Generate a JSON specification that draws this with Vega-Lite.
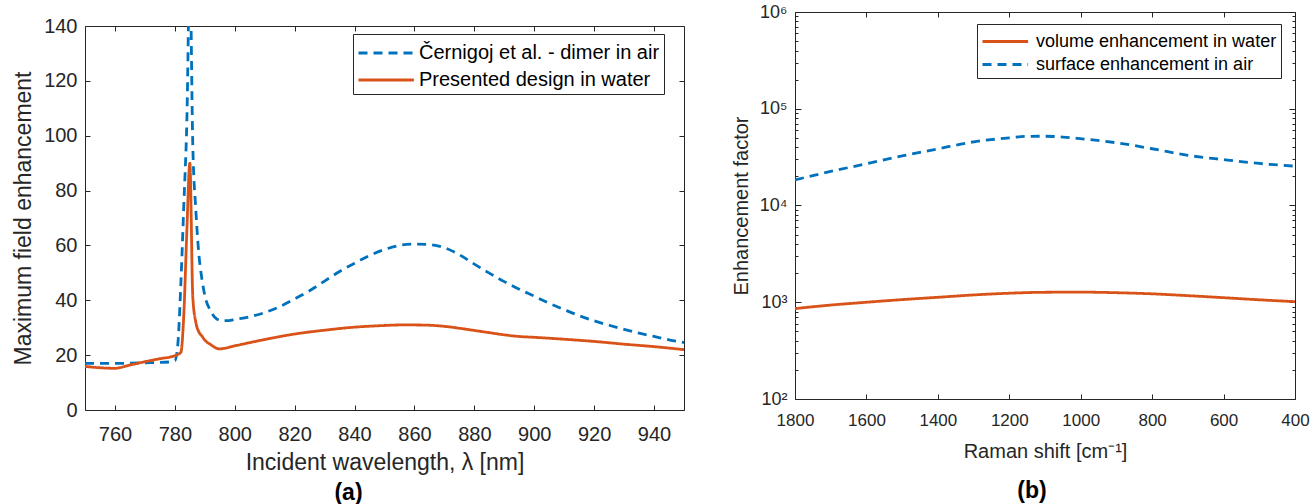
{
  "$schema": "https://vega.github.io/schema/vega-lite/v6.json",
  "padding": {"left": 12, "top": 3, "right": 2, "bottom": 2},
  "background": "white",
  "datasets": {
    "wave": [
      {"wavelength": 750, "enhancement": 17.0, "series": "Černigoj et al. - dimer in air"},
      {"wavelength": 755, "enhancement": 17.0, "series": "Černigoj et al. - dimer in air"},
      {"wavelength": 760, "enhancement": 17.0, "series": "Černigoj et al. - dimer in air"},
      {"wavelength": 770, "enhancement": 17.2, "series": "Černigoj et al. - dimer in air"},
      {"wavelength": 778, "enhancement": 17.5, "series": "Černigoj et al. - dimer in air"},
      {"wavelength": 780, "enhancement": 18.0, "series": "Černigoj et al. - dimer in air"},
      {"wavelength": 781, "enhancement": 24, "series": "Černigoj et al. - dimer in air"},
      {"wavelength": 782, "enhancement": 46, "series": "Černigoj et al. - dimer in air"},
      {"wavelength": 783, "enhancement": 75, "series": "Černigoj et al. - dimer in air"},
      {"wavelength": 784, "enhancement": 105, "series": "Černigoj et al. - dimer in air"},
      {"wavelength": 785, "enhancement": 160, "series": "Černigoj et al. - dimer in air"},
      {"wavelength": 786, "enhancement": 96, "series": "Černigoj et al. - dimer in air"},
      {"wavelength": 787, "enhancement": 73, "series": "Černigoj et al. - dimer in air"},
      {"wavelength": 788, "enhancement": 57, "series": "Černigoj et al. - dimer in air"},
      {"wavelength": 789, "enhancement": 48, "series": "Černigoj et al. - dimer in air"},
      {"wavelength": 790, "enhancement": 41.8, "series": "Černigoj et al. - dimer in air"},
      {"wavelength": 792, "enhancement": 36, "series": "Černigoj et al. - dimer in air"},
      {"wavelength": 794, "enhancement": 33.2, "series": "Černigoj et al. - dimer in air"},
      {"wavelength": 796, "enhancement": 32.6, "series": "Černigoj et al. - dimer in air"},
      {"wavelength": 798, "enhancement": 32.6, "series": "Černigoj et al. - dimer in air"},
      {"wavelength": 800, "enhancement": 33.0, "series": "Černigoj et al. - dimer in air"},
      {"wavelength": 805, "enhancement": 34.0, "series": "Černigoj et al. - dimer in air"},
      {"wavelength": 810, "enhancement": 35.5, "series": "Černigoj et al. - dimer in air"},
      {"wavelength": 815, "enhancement": 37.7, "series": "Černigoj et al. - dimer in air"},
      {"wavelength": 820, "enhancement": 40.5, "series": "Černigoj et al. - dimer in air"},
      {"wavelength": 825, "enhancement": 43.5, "series": "Černigoj et al. - dimer in air"},
      {"wavelength": 830, "enhancement": 47.0, "series": "Černigoj et al. - dimer in air"},
      {"wavelength": 835, "enhancement": 50.5, "series": "Černigoj et al. - dimer in air"},
      {"wavelength": 840, "enhancement": 53.5, "series": "Černigoj et al. - dimer in air"},
      {"wavelength": 845, "enhancement": 56.3, "series": "Černigoj et al. - dimer in air"},
      {"wavelength": 850, "enhancement": 58.5, "series": "Černigoj et al. - dimer in air"},
      {"wavelength": 855, "enhancement": 60.0, "series": "Černigoj et al. - dimer in air"},
      {"wavelength": 860, "enhancement": 60.5, "series": "Černigoj et al. - dimer in air"},
      {"wavelength": 865, "enhancement": 60.3, "series": "Černigoj et al. - dimer in air"},
      {"wavelength": 870, "enhancement": 59.2, "series": "Černigoj et al. - dimer in air"},
      {"wavelength": 875, "enhancement": 56.6, "series": "Černigoj et al. - dimer in air"},
      {"wavelength": 880, "enhancement": 53.2, "series": "Černigoj et al. - dimer in air"},
      {"wavelength": 885, "enhancement": 49.9, "series": "Černigoj et al. - dimer in air"},
      {"wavelength": 890, "enhancement": 46.8, "series": "Černigoj et al. - dimer in air"},
      {"wavelength": 895, "enhancement": 44.0, "series": "Černigoj et al. - dimer in air"},
      {"wavelength": 900, "enhancement": 41.5, "series": "Černigoj et al. - dimer in air"},
      {"wavelength": 905, "enhancement": 38.9, "series": "Černigoj et al. - dimer in air"},
      {"wavelength": 910, "enhancement": 36.6, "series": "Černigoj et al. - dimer in air"},
      {"wavelength": 915, "enhancement": 34.4, "series": "Černigoj et al. - dimer in air"},
      {"wavelength": 920, "enhancement": 32.5, "series": "Černigoj et al. - dimer in air"},
      {"wavelength": 925, "enhancement": 30.9, "series": "Černigoj et al. - dimer in air"},
      {"wavelength": 930, "enhancement": 29.4, "series": "Černigoj et al. - dimer in air"},
      {"wavelength": 935, "enhancement": 28.0, "series": "Černigoj et al. - dimer in air"},
      {"wavelength": 940, "enhancement": 26.8, "series": "Černigoj et al. - dimer in air"},
      {"wavelength": 945, "enhancement": 25.6, "series": "Černigoj et al. - dimer in air"},
      {"wavelength": 950, "enhancement": 24.6, "series": "Černigoj et al. - dimer in air"},
      {"wavelength": 750, "enhancement": 15.9, "series": "Presented design in water"},
      {"wavelength": 755, "enhancement": 15.4, "series": "Presented design in water"},
      {"wavelength": 760, "enhancement": 15.2, "series": "Presented design in water"},
      {"wavelength": 765, "enhancement": 16.4, "series": "Presented design in water"},
      {"wavelength": 770, "enhancement": 17.6, "series": "Presented design in water"},
      {"wavelength": 775, "enhancement": 18.7, "series": "Presented design in water"},
      {"wavelength": 780, "enhancement": 19.8, "series": "Presented design in water"},
      {"wavelength": 782, "enhancement": 21.0, "series": "Presented design in water"},
      {"wavelength": 783, "enhancement": 35, "series": "Presented design in water"},
      {"wavelength": 784, "enhancement": 65, "series": "Presented design in water"},
      {"wavelength": 785, "enhancement": 90, "series": "Presented design in water"},
      {"wavelength": 786, "enhancement": 41, "series": "Presented design in water"},
      {"wavelength": 787, "enhancement": 32, "series": "Presented design in water"},
      {"wavelength": 788, "enhancement": 28.5, "series": "Presented design in water"},
      {"wavelength": 789, "enhancement": 27.0, "series": "Presented design in water"},
      {"wavelength": 790, "enhancement": 25.5, "series": "Presented design in water"},
      {"wavelength": 792, "enhancement": 23.8, "series": "Presented design in water"},
      {"wavelength": 794, "enhancement": 22.5, "series": "Presented design in water"},
      {"wavelength": 795, "enhancement": 22.3, "series": "Presented design in water"},
      {"wavelength": 800, "enhancement": 23.4, "series": "Presented design in water"},
      {"wavelength": 810, "enhancement": 25.7, "series": "Presented design in water"},
      {"wavelength": 820, "enhancement": 27.7, "series": "Presented design in water"},
      {"wavelength": 830, "enhancement": 29.1, "series": "Presented design in water"},
      {"wavelength": 840, "enhancement": 30.2, "series": "Presented design in water"},
      {"wavelength": 850, "enhancement": 30.8, "series": "Presented design in water"},
      {"wavelength": 855, "enhancement": 31.0, "series": "Presented design in water"},
      {"wavelength": 860, "enhancement": 31.0, "series": "Presented design in water"},
      {"wavelength": 865, "enhancement": 30.9, "series": "Presented design in water"},
      {"wavelength": 870, "enhancement": 30.5, "series": "Presented design in water"},
      {"wavelength": 875, "enhancement": 29.8, "series": "Presented design in water"},
      {"wavelength": 880, "enhancement": 29.0, "series": "Presented design in water"},
      {"wavelength": 885, "enhancement": 28.2, "series": "Presented design in water"},
      {"wavelength": 890, "enhancement": 27.4, "series": "Presented design in water"},
      {"wavelength": 895, "enhancement": 26.8, "series": "Presented design in water"},
      {"wavelength": 900, "enhancement": 26.5, "series": "Presented design in water"},
      {"wavelength": 910, "enhancement": 25.8, "series": "Presented design in water"},
      {"wavelength": 920, "enhancement": 25.0, "series": "Presented design in water"},
      {"wavelength": 930, "enhancement": 24.0, "series": "Presented design in water"},
      {"wavelength": 940, "enhancement": 23.1, "series": "Presented design in water"},
      {"wavelength": 950, "enhancement": 22.0, "series": "Presented design in water"}
    ],
    "raman": [
      {"shift": 1800, "factor": 860, "curve": "volume enhancement in water"},
      {"shift": 1700, "factor": 935, "curve": "volume enhancement in water"},
      {"shift": 1600, "factor": 1000, "curve": "volume enhancement in water"},
      {"shift": 1500, "factor": 1065, "curve": "volume enhancement in water"},
      {"shift": 1400, "factor": 1125, "curve": "volume enhancement in water"},
      {"shift": 1300, "factor": 1190, "curve": "volume enhancement in water"},
      {"shift": 1200, "factor": 1240, "curve": "volume enhancement in water"},
      {"shift": 1100, "factor": 1268, "curve": "volume enhancement in water"},
      {"shift": 1000, "factor": 1272, "curve": "volume enhancement in water"},
      {"shift": 900, "factor": 1255, "curve": "volume enhancement in water"},
      {"shift": 800, "factor": 1222, "curve": "volume enhancement in water"},
      {"shift": 700, "factor": 1170, "curve": "volume enhancement in water"},
      {"shift": 600, "factor": 1115, "curve": "volume enhancement in water"},
      {"shift": 500, "factor": 1060, "curve": "volume enhancement in water"},
      {"shift": 400, "factor": 1015, "curve": "volume enhancement in water"},
      {"shift": 1800, "factor": 18400, "curve": "surface enhancement in air"},
      {"shift": 1700, "factor": 22500, "curve": "surface enhancement in air"},
      {"shift": 1600, "factor": 27000, "curve": "surface enhancement in air"},
      {"shift": 1500, "factor": 32500, "curve": "surface enhancement in air"},
      {"shift": 1400, "factor": 38500, "curve": "surface enhancement in air"},
      {"shift": 1300, "factor": 45500, "curve": "surface enhancement in air"},
      {"shift": 1200, "factor": 50000, "curve": "surface enhancement in air"},
      {"shift": 1150, "factor": 51800, "curve": "surface enhancement in air"},
      {"shift": 1100, "factor": 52000, "curve": "surface enhancement in air"},
      {"shift": 1050, "factor": 51000, "curve": "surface enhancement in air"},
      {"shift": 1000, "factor": 49000, "curve": "surface enhancement in air"},
      {"shift": 900, "factor": 44500, "curve": "surface enhancement in air"},
      {"shift": 800, "factor": 38600, "curve": "surface enhancement in air"},
      {"shift": 700, "factor": 33000, "curve": "surface enhancement in air"},
      {"shift": 600, "factor": 29800, "curve": "surface enhancement in air"},
      {"shift": 500, "factor": 27200, "curve": "surface enhancement in air"},
      {"shift": 400, "factor": 25500, "curve": "surface enhancement in air"}
    ]
  },
  "config": {
    "font": "Liberation Sans",
    "view": {"stroke": null},
    "axis": {
      "grid": false,
      "domainColor": "#262626",
      "tickColor": "#262626",
      "labelColor": "#262626",
      "titleColor": "#262626",
      "labelFont": "Liberation Sans",
      "titleFont": "Liberation Sans",
      "titleFontWeight": "normal",
      "domainWidth": 1,
      "tickWidth": 1,
      "labelFlush": false,
      "labelOverlap": false
    },
    "legend": {
      "labelFont": "Liberation Sans",
      "labelColor": "#000000",
      "strokeColor": "#262626",
      "fillColor": "white",
      "labelLimit": 0
    },
    "title": {"font": "Liberation Sans", "color": "#000000"}
  },
  "resolve": {
    "scale": {"color": "independent", "strokeDash": "independent"},
    "legend": {"color": "independent", "strokeDash": "independent"}
  },
  "spacing": 46,
  "hconcat": [
    {
      "spacing": -2,
      "vconcat": [
        {
          "width": 599,
          "height": 1,
          "data": {"values": [{}]},
          "mark": {"type": "text", "text": ""}
        },
        {
          "width": 599,
          "height": 384,
          "title": {"text": "(a)", "orient": "bottom", "fontSize": 23, "fontWeight": "bold", "offset": 8, "dx": -36},
          "data": {"name": "wave"},
          "layer": [
            {
              "transform": [{"filter": "datum.series == 'Černigoj et al. - dimer in air'"}],
              "mark": {"type": "line", "strokeWidth": 2.8, "clip": true, "interpolate": "monotone"},
              "encoding": {
                "x": {
                  "field": "wavelength", "type": "quantitative",
                  "scale": {"domain": [750, 950], "nice": false, "zero": false},
                  "axis": {"orient": "bottom", "values": [760, 780, 800, 820, 840, 860, 880, 900, 920, 940], "title": "Incident wavelength, λ [nm]", "labelFontSize": 20, "titleFontSize": 23, "tickSize": -5, "labelPadding": 19, "titlePadding": 7}
                },
                "y": {
                  "field": "enhancement", "type": "quantitative",
                  "scale": {"domain": [0, 140], "nice": false},
                  "axis": {"orient": "left", "values": [0, 20, 40, 60, 80, 100, 120, 140], "title": "Maximum field enhancement", "labelFontSize": 20, "titleFontSize": 23, "tickSize": -5, "labelPadding": 13, "titlePadding": 8}
                },
                "color": {
                  "field": "series", "type": "nominal",
                  "scale": {"domain": ["Černigoj et al. - dimer in air", "Presented design in water"], "range": ["#0072BD", "#D95319"]},
                  "legend": {"title": null, "orient": "none", "legendX": 268, "legendY": 22, "symbolType": "M-1,0H3.1", "symbolSize": 729, "symbolStrokeWidth": 2.8, "labelFontSize": 20, "labelOffset": 32, "padding": 4, "rowPadding": 2}
                },
                "strokeDash": {
                  "field": "series", "type": "nominal",
                  "scale": {"domain": ["Černigoj et al. - dimer in air", "Presented design in water"], "range": [[9, 6], [1, 0]]},
                  "legend": {"title": null}
                }
              }
            },
            {
              "transform": [{"filter": "datum.series == 'Presented design in water'"}],
              "mark": {"type": "line", "strokeWidth": 2.8, "clip": true, "interpolate": "monotone"},
              "encoding": {
                "x": {
                  "field": "wavelength", "type": "quantitative",
                  "scale": {"domain": [750, 950], "nice": false, "zero": false},
                  "axis": {"orient": "top", "values": [760, 780, 800, 820, 840, 860, 880, 900, 920, 940], "labels": false, "title": null, "tickSize": -5}
                },
                "y": {
                  "field": "enhancement", "type": "quantitative",
                  "scale": {"domain": [0, 140], "nice": false},
                  "axis": {"orient": "right", "values": [0, 20, 40, 60, 80, 100, 120, 140], "labels": false, "title": null, "tickSize": -5}
                },
                "color": {"field": "series", "type": "nominal", "legend": {"title": null}},
                "strokeDash": {"field": "series", "type": "nominal", "legend": {"title": null}}
              }
            }
          ],
          "resolve": {"axis": {"x": "independent", "y": "independent"}}
        }
      ]
    },
    {
      "width": 500,
      "height": 387,
      "title": {"text": "(b)", "orient": "bottom", "fontSize": 23, "fontWeight": "bold", "offset": 19, "dx": -13},
      "data": {"name": "raman"},
      "layer": [
        {
          "transform": [{"filter": "datum.curve == 'volume enhancement in water'"}],
          "mark": {"type": "line", "strokeWidth": 2.8, "clip": true, "interpolate": "monotone"},
          "encoding": {
            "x": {
              "field": "shift", "type": "quantitative",
              "scale": {"domain": [400, 1800], "reverse": true, "nice": false, "zero": false},
              "axis": {"orient": "bottom", "values": [400, 600, 800, 1000, 1200, 1400, 1600, 1800], "format": "d", "title": "Raman shift [cm⁻¹]", "labelFontSize": 17, "titleFontSize": 20, "tickSize": -5, "labelPadding": 18, "titlePadding": 13}
            },
            "y": {
              "field": "factor", "type": "quantitative",
              "scale": {"type": "log", "domain": [100, 1000000], "nice": false},
              "axis": {
                "orient": "left",
                "values": [100, 200, 300, 400, 500, 600, 700, 800, 900, 1000, 2000, 3000, 4000, 5000, 6000, 7000, 8000, 9000, 10000, 20000, 30000, 40000, 50000, 60000, 70000, 80000, 90000, 100000, 200000, 300000, 400000, 500000, 600000, 700000, 800000, 900000, 1000000],
                "labelExpr": "datum.value == 100 ? '10²' : datum.value == 1000 ? '10³' : datum.value == 10000 ? '10⁴' : datum.value == 100000 ? '10⁵' : datum.value == 1000000 ? '10⁶' : ''",
                "title": "Enhancement factor", "labelFontSize": 18, "titleFontSize": 20,
                "tickSize": {"condition": {"test": "indexof([100, 1000, 10000, 100000, 1000000], datum.value) >= 0", "value": -6}, "value": -3},
                "labelPadding": 14, "titlePadding": 8
              }
            },
            "color": {
              "field": "curve", "type": "nominal",
              "scale": {"domain": ["volume enhancement in water", "surface enhancement in air"], "range": ["#D95319", "#0072BD"]},
              "legend": {"title": null, "orient": "none", "legendX": 182, "legendY": 12, "symbolType": "M-1,0H2.8", "symbolSize": 576, "symbolStrokeWidth": 2.8, "labelFontSize": 18, "labelOffset": 28, "padding": 4, "rowPadding": 0}
            },
            "strokeDash": {
              "field": "curve", "type": "nominal",
              "scale": {"domain": ["volume enhancement in water", "surface enhancement in air"], "range": [[1, 0], [9, 6]]},
              "legend": {"title": null}
            }
          }
        },
        {
          "transform": [{"filter": "datum.curve == 'surface enhancement in air'"}],
          "mark": {"type": "line", "strokeWidth": 2.8, "clip": true, "interpolate": "monotone"},
          "encoding": {
            "x": {
              "field": "shift", "type": "quantitative",
              "scale": {"domain": [400, 1800], "reverse": true, "nice": false, "zero": false},
              "axis": {"orient": "top", "values": [400, 600, 800, 1000, 1200, 1400, 1600, 1800], "labels": false, "title": null, "tickSize": -5}
            },
            "y": {
              "field": "factor", "type": "quantitative",
              "scale": {"type": "log", "domain": [100, 1000000], "nice": false},
              "axis": {
                "orient": "right",
                "values": [100, 200, 300, 400, 500, 600, 700, 800, 900, 1000, 2000, 3000, 4000, 5000, 6000, 7000, 8000, 9000, 10000, 20000, 30000, 40000, 50000, 60000, 70000, 80000, 90000, 100000, 200000, 300000, 400000, 500000, 600000, 700000, 800000, 900000, 1000000],
                "labels": false, "title": null,
                "tickSize": {"condition": {"test": "indexof([100, 1000, 10000, 100000, 1000000], datum.value) >= 0", "value": -6}, "value": -3}
              }
            },
            "color": {"field": "curve", "type": "nominal", "legend": {"title": null}},
            "strokeDash": {"field": "curve", "type": "nominal", "legend": {"title": null}}
          }
        }
      ],
      "resolve": {"axis": {"x": "independent", "y": "independent"}}
    }
  ]
}
